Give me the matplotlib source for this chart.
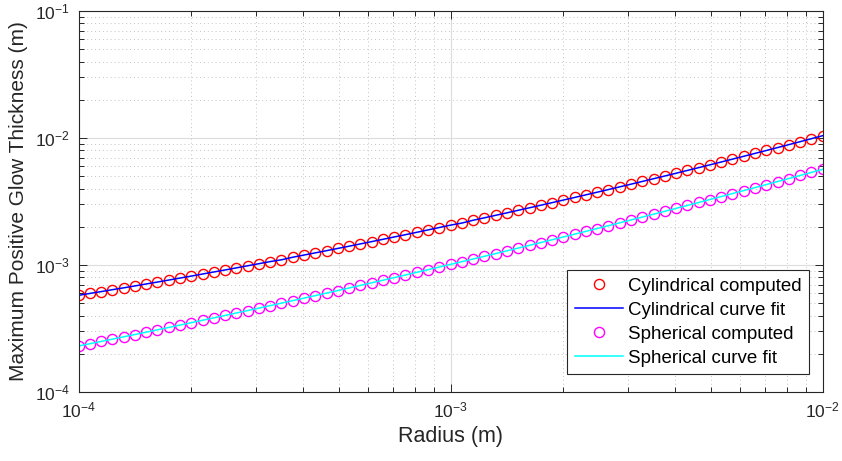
import numpy as np
import matplotlib
matplotlib.use("Agg")
import matplotlib.pyplot as plt
from matplotlib.ticker import LogLocator, NullFormatter

# ---- data ----
# radius grid: 67 log-spaced samples between 1e-4 and 1e-2 m
radius = np.logspace(-4, -2, 67)

cyl_computed = [
    5.77e-4, 5.97e-4, 6.17e-4, 6.39e-4, 6.61e-4, 6.84e-4, 7.09e-4, 7.34e-4,
    7.61e-4, 7.89e-4, 8.18e-4, 8.49e-4, 8.81e-4, 9.14e-4, 9.49e-4, 9.86e-4,
    1.024e-3, 1.064e-3, 1.099e-3, 1.151e-3, 1.198e-3, 1.246e-3, 1.297e-3,
    1.351e-3, 1.406e-3, 1.466e-3, 1.528e-3, 1.593e-3, 1.662e-3, 1.733e-3,
    1.809e-3, 1.889e-3, 1.973e-3, 2.061e-3, 2.139e-3, 2.251e-3, 2.353e-3,
    2.462e-3, 2.575e-3, 2.697e-3, 2.822e-3, 2.956e-3, 3.097e-3, 3.246e-3,
    3.403e-3, 3.569e-3, 3.743e-3, 3.928e-3, 4.124e-3, 4.330e-3, 4.548e-3,
    4.778e-3, 5.022e-3, 5.281e-3, 5.554e-3, 5.842e-3, 6.150e-3, 6.474e-3,
    6.817e-3, 7.179e-3, 7.567e-3, 7.974e-3, 8.409e-3, 8.869e-3, 9.356e-3,
    9.876e-3, 1.043e-2,
]
cyl_fit = list(cyl_computed)

sph_computed = [
    2.302e-4, 2.399e-4, 2.501e-4, 2.606e-4, 2.719e-4, 2.835e-4, 2.958e-4,
    3.088e-4, 3.222e-4, 3.364e-4, 3.513e-4, 3.671e-4, 3.834e-4, 4.006e-4,
    4.187e-4, 4.377e-4, 4.577e-4, 4.787e-4, 5.009e-4, 5.242e-4, 5.485e-4,
    5.741e-4, 6.011e-4, 6.295e-4, 6.594e-4, 6.909e-4, 7.240e-4, 7.590e-4,
    7.958e-4, 8.347e-4, 8.754e-4, 9.183e-4, 9.636e-4, 1.012e-3, 1.062e-3,
    1.115e-3, 1.171e-3, 1.230e-3, 1.293e-3, 1.359e-3, 1.429e-3, 1.502e-3,
    1.580e-3, 1.662e-3, 1.749e-3, 1.841e-3, 1.937e-3, 2.040e-3, 2.148e-3,
    2.263e-3, 2.384e-3, 2.513e-3, 2.649e-3, 2.793e-3, 2.945e-3, 3.106e-3,
    3.278e-3, 3.458e-3, 3.651e-3, 3.854e-3, 4.069e-3, 4.298e-3, 4.542e-3,
    4.798e-3, 5.071e-3, 5.360e-3, 5.669e-3,
]
sph_fit = list(sph_computed)

labels = ["Cylindrical computed", "Cylindrical curve fit",
          "Spherical computed", "Spherical curve fit"]
x_label = "Radius (m)"
y_label = "Maximum Positive Glow Thickness (m)"

# ---- style ----
plt.rcParams["font.family"] = ["Liberation Sans", "DejaVu Sans"]
plt.rcParams["mathtext.fontset"] = "custom"
plt.rcParams["mathtext.rm"] = "Liberation Sans"
plt.rcParams["axes.unicode_minus"] = False
axcol = "#262626"

fig = plt.figure(figsize=(8.42, 4.61), dpi=100)
ax = fig.add_axes([78.5 / 842, 1 - 392 / 461, (822.7 - 78.5) / 842, (392 - 11) / 461])

l1, = ax.plot(radius, cyl_computed, linestyle="none", marker="o", markersize=7.3,
              markerfacecolor="none", markeredgecolor=(1, 0, 0), markeredgewidth=1.0)
l3, = ax.plot(radius, sph_computed, linestyle="none", marker="o", markersize=7.3,
              markerfacecolor="none", markeredgecolor=(1, 0, 1), markeredgewidth=1.0)
l2, = ax.plot(radius, cyl_fit, color=(0, 0, 1), linewidth=1.1)
l4, = ax.plot(radius, sph_fit, color=(0, 1, 1), linewidth=1.1)

ax.set_xscale("log")
ax.set_yscale("log")
ax.set_xlim(1e-4, 1e-2)
ax.set_ylim(1e-4, 1e-1)

ax.xaxis.set_major_locator(LogLocator(base=10, numticks=10))
ax.yaxis.set_major_locator(LogLocator(base=10, numticks=10))
ax.xaxis.set_minor_locator(LogLocator(base=10, subs=np.arange(2, 10), numticks=20))
ax.yaxis.set_minor_locator(LogLocator(base=10, subs=np.arange(2, 10), numticks=20))
ax.xaxis.set_minor_formatter(NullFormatter())
ax.yaxis.set_minor_formatter(NullFormatter())

ax.grid(True, which="major", color="#dcdcdc", linestyle="-", linewidth=0.8)
ax.grid(True, which="minor", color="#c4c4c4", linestyle=(0, (1, 3)), linewidth=0.7)
ax.set_axisbelow(True)

for sp in ax.spines.values():
    sp.set_color(axcol)
    sp.set_linewidth(0.8)
ax.tick_params(which="both", direction="in", top=True, right=True, colors=axcol,
               labelsize=12.5, width=0.7)
ax.tick_params(which="major", length=5.5, pad=6)
ax.tick_params(which="minor", length=3.5)

ax.set_xlabel(x_label, fontsize=15.5, color=axcol, labelpad=4)
ax.set_ylabel(y_label, fontsize=15, color=axcol, labelpad=5)

leg = ax.legend([l1, l2, l3, l4], labels, loc="lower right",
                bbox_to_anchor=(0.982, 0.047), borderaxespad=0,
                fontsize=13.5, frameon=True, fancybox=False, framealpha=1,
                edgecolor="#262626", handlelength=2.6, handletextpad=0.25,
                labelspacing=0.36, borderpad=0.4)
leg.get_frame().set_linewidth(0.8)
for t in leg.get_texts():
    t.set_color("black")

fig.savefig("out.png", dpi=100)
